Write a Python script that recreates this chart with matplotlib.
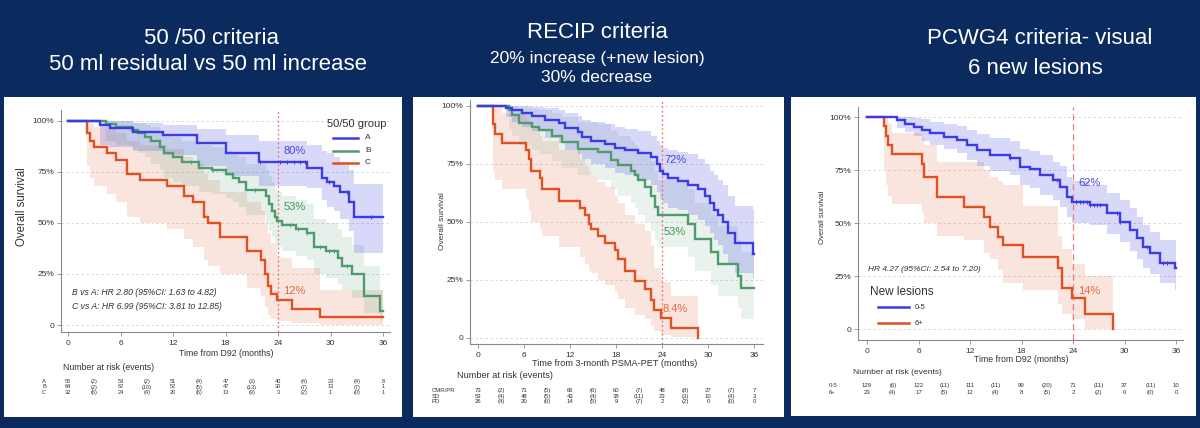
import matplotlib
matplotlib.use('Agg')
import matplotlib.pyplot as plt
import numpy as np
from matplotlib.lines import Line2D
from matplotlib.patches import Rectangle
from matplotlib.transforms import blended_transform_factory

plt.rcParams['font.family'] = ['Liberation Sans', 'DejaVu Sans']

# ---------------- DATA ----------------
risk_times = list(range(0, 37, 3))
x_ticks = [0, 6, 12, 18, 24, 30, 36]
y_ticks = [0, 0.25, 0.5, 0.75, 1.0]
y_tick_labels = ['0', '25%', '50%', '75%', '100%']

# Panel 1: 50/50 criteria
p1_A_t = [0, 3.6, 4.8, 7.4, 10.9, 14.7, 18.1, 21.8, 27.3, 29.0, 29.6, 30.4, 31.1, 32.1, 32.7, 36]
p1_A_s = [1.0, 0.98, 0.964, 0.946, 0.93, 0.89, 0.84, 0.80, 0.77, 0.72, 0.70, 0.68, 0.65, 0.60, 0.53, 0.53]
p1_A_hi = [1.0, 1.0, 1.0, 0.99, 0.98, 0.96, 0.93, 0.90, 0.88, 0.85, 0.84, 0.82, 0.80, 0.76, 0.69, 0.69]
p1_A_lo = [1.0, 0.88, 0.87, 0.85, 0.83, 0.78, 0.73, 0.68, 0.67, 0.61, 0.58, 0.56, 0.52, 0.46, 0.35, 0.35]
p1_A_cens = [21.95, 24.2, 25.0, 25.8, 26.5, 27.1, 29.8, 31.9, 34.6]

p1_B_t = [0, 4.3, 5.5, 7.3, 8.0, 8.8, 9.5, 10.5, 11.0, 12.0, 13.0, 15.0, 16.5, 18.0, 18.8, 19.5, 20.3,
          22.6, 23.0, 23.3, 23.6, 23.9, 24.5, 26.0, 27.3, 28.1, 29.5, 30.8, 31.3, 32.5, 33.8, 35.7, 36]
p1_B_s = [1.0, 0.985, 0.97, 0.955, 0.94, 0.92, 0.90, 0.87, 0.84, 0.82, 0.80, 0.77, 0.76, 0.74, 0.72, 0.70, 0.66,
          0.63, 0.59, 0.56, 0.53, 0.51, 0.49, 0.47, 0.45, 0.38, 0.36, 0.33, 0.29, 0.25, 0.14, 0.07, 0.07]
p1_B_hi = [1.0, 1.0, 1.0, 0.995, 0.99, 0.98, 0.97, 0.95, 0.93, 0.92, 0.90, 0.88, 0.87, 0.85, 0.84, 0.82, 0.79,
           0.76, 0.73, 0.70, 0.67, 0.65, 0.63, 0.61, 0.59, 0.52, 0.50, 0.47, 0.43, 0.39, 0.29, 0.17, 0.17]
p1_B_lo = [1.0, 0.90, 0.88, 0.86, 0.84, 0.82, 0.79, 0.76, 0.72, 0.70, 0.68, 0.65, 0.64, 0.62, 0.60, 0.58, 0.54,
           0.50, 0.46, 0.43, 0.40, 0.38, 0.36, 0.34, 0.32, 0.25, 0.23, 0.20, 0.17, 0.13, 0.06, 0.02, 0.02]
p1_B_cens = [14.1, 16.6, 21.4, 25.4, 26.3, 27.3, 28.8, 29.8, 30.4, 31.9]

p1_C_t = [0, 2.2, 2.5, 3.0, 4.4, 5.5, 6.7, 8.2, 11.3, 13.2, 14.3, 15.5, 16.0, 17.4, 20.4, 22.0, 22.5, 22.8,
          23.2, 23.9, 25.6, 28.8, 36]
p1_C_s = [1.0, 0.94, 0.90, 0.87, 0.84, 0.81, 0.74, 0.71, 0.68, 0.63, 0.60, 0.53, 0.50, 0.43, 0.36, 0.32, 0.25, 0.19,
          0.15, 0.12, 0.08, 0.04, 0.04]
p1_C_hi = [1.0, 1.0, 0.99, 0.97, 0.96, 0.94, 0.90, 0.88, 0.86, 0.82, 0.79, 0.74, 0.71, 0.65, 0.60, 0.56, 0.50, 0.45,
           0.40, 0.33, 0.28, 0.17, 0.17]
p1_C_lo = [1.0, 0.78, 0.72, 0.68, 0.64, 0.60, 0.53, 0.50, 0.47, 0.42, 0.38, 0.32, 0.29, 0.25, 0.18, 0.14, 0.09, 0.05,
           0.03, 0.02, 0.01, 0.0, 0.0]

p1_rows = ['A', 'B', 'C']
p1_risk = [
    ['56', '(2)', '53', '(2)', '51', '(4)', '47', '(3)', '40', '(4)', '23', '(4)', '8'],
    ['64', '(2)', '62', '(10)', '52', '(5)', '47', '(13)', '30', '(7)', '13', '(7)', '1'],
    ['32', '(6)', '24', '(4)', '20', '(6)', '13', '(9)', '3', '(2)', '1', '(0)', '1'],
]

# Panel 2: RECIP criteria
p2_A_t = [0, 3.6, 4.4, 5.7, 7.0, 8.8, 10.5, 11.4, 13.1, 13.5, 14.8, 16.6, 17.9, 19.2, 20.9, 22.6, 23.3, 23.7,
          24.1, 24.8, 26.1, 27.4, 28.7, 29.6, 30.2, 30.8, 31.3, 32.0, 32.6, 33.5, 35.9, 36]
p2_A_s = [1.0, 0.99, 0.98, 0.97, 0.955, 0.94, 0.925, 0.905, 0.885, 0.865, 0.85, 0.835, 0.82, 0.81, 0.795, 0.78, 0.75,
          0.72, 0.705, 0.69, 0.675, 0.66, 0.64, 0.61, 0.58, 0.55, 0.53, 0.50, 0.45, 0.41, 0.36, 0.36]
p2_A_hi = [1.0, 1.0, 1.0, 1.0, 0.995, 0.99, 0.98, 0.97, 0.955, 0.94, 0.93, 0.92, 0.91, 0.90, 0.89, 0.87, 0.85,
           0.83, 0.82, 0.81, 0.80, 0.79, 0.77, 0.75, 0.72, 0.70, 0.68, 0.66, 0.61, 0.57, 0.55, 0.55]
p2_A_lo = [1.0, 0.95, 0.93, 0.91, 0.89, 0.86, 0.84, 0.81, 0.79, 0.77, 0.75, 0.73, 0.71, 0.70, 0.68, 0.66, 0.63,
           0.60, 0.58, 0.56, 0.55, 0.53, 0.51, 0.48, 0.45, 0.42, 0.40, 0.36, 0.32, 0.28, 0.26, 0.26]

p2_B_t = [0, 4.0, 4.4, 5.3, 7.0, 7.9, 9.6, 10.9, 13.1, 15.7, 17.4, 18.3, 20.0, 20.5, 20.9, 21.8, 22.6, 23.1,
          23.5, 27.4, 28.3, 30.4, 31.3, 33.9, 34.3, 36]
p2_B_s = [1.0, 0.98, 0.96, 0.925, 0.91, 0.895, 0.87, 0.845, 0.815, 0.80, 0.765, 0.745, 0.72, 0.70, 0.68, 0.65, 0.61,
          0.565, 0.53, 0.49, 0.425, 0.37, 0.32, 0.265, 0.215, 0.215]
p2_B_hi = [1.0, 1.0, 1.0, 0.99, 0.985, 0.98, 0.97, 0.95, 0.93, 0.92, 0.89, 0.87, 0.85, 0.83, 0.81, 0.79, 0.76,
           0.72, 0.68, 0.64, 0.58, 0.53, 0.48, 0.42, 0.37, 0.37]
p2_B_lo = [1.0, 0.90, 0.87, 0.83, 0.81, 0.79, 0.76, 0.73, 0.70, 0.68, 0.64, 0.61, 0.58, 0.56, 0.53, 0.50, 0.46,
           0.42, 0.39, 0.35, 0.29, 0.23, 0.18, 0.13, 0.08, 0.08]

p2_C_t = [0, 2.0, 2.25, 3.1, 6.2, 6.6, 6.9, 8.1, 8.3, 10.5, 13.3, 14.0, 14.5, 14.8, 15.7, 16.6, 17.9, 18.3, 19.2,
          20.5, 21.8, 22.6, 22.9, 23.9, 25.2, 28.7]
p2_C_s = [1.0, 0.92, 0.88, 0.84, 0.81, 0.77, 0.72, 0.69, 0.64, 0.59, 0.56, 0.53, 0.49, 0.47, 0.44, 0.41, 0.38, 0.34,
          0.29, 0.245, 0.21, 0.165, 0.12, 0.084, 0.045, 0.0]
p2_C_hi = [1.0, 1.0, 1.0, 0.97, 0.95, 0.92, 0.90, 0.87, 0.85, 0.81, 0.77, 0.74, 0.72, 0.70, 0.67, 0.65, 0.61, 0.58,
           0.53, 0.49, 0.46, 0.40, 0.30, 0.24, 0.18, 0.18]
p2_C_lo = [1.0, 0.72, 0.68, 0.64, 0.60, 0.55, 0.50, 0.47, 0.44, 0.39, 0.35, 0.32, 0.29, 0.28, 0.25, 0.23, 0.20, 0.17,
           0.13, 0.10, 0.08, 0.05, 0.03, 0.015, 0.005, 0.0]

p2_rows = ['CMR/PR', 'SD', 'PD']
p2_risk = [
    ['73', '(2)', '71', '(5)', '66', '(6)', '60', '(7)', '48', '(8)', '27', '(7)', '7'],
    ['53', '(4)', '48', '(5)', '43', '(4)', '38', '(11)', '23', '(3)', '10', '(4)', '3'],
    ['26', '(4)', '20', '(6)', '14', '(5)', '9', '(7)', '2', '(2)', '0', '(0)', '0'],
]

# Panel 3: PCWG4 criteria
p3_A_t = [0, 3.5, 4.46, 5.43, 6.4, 7.37, 8.92, 10.47, 11.64, 12.8, 14.35, 16.68, 17.84, 19.0, 20.17, 21.72, 22.5,
          23.27, 23.86, 25.99, 27.93, 29.48, 30.64, 31.42, 32.2, 32.97, 34.13, 35.88, 36]
p3_A_s = [1.0, 0.987, 0.97, 0.956, 0.94, 0.925, 0.909, 0.893, 0.87, 0.846, 0.822, 0.81, 0.767, 0.755, 0.728, 0.704,
          0.673, 0.626, 0.60, 0.586, 0.547, 0.508, 0.468, 0.43, 0.39, 0.358, 0.314, 0.29, 0.29]
p3_A_hi = [1.0, 1.0, 1.0, 0.995, 0.99, 0.98, 0.97, 0.96, 0.94, 0.92, 0.90, 0.89, 0.85, 0.84, 0.82, 0.79, 0.77,
           0.72, 0.70, 0.68, 0.645, 0.61, 0.57, 0.53, 0.49, 0.46, 0.42, 0.42, 0.42]
p3_A_lo = [1.0, 0.95, 0.93, 0.91, 0.89, 0.87, 0.85, 0.83, 0.80, 0.77, 0.745, 0.73, 0.68, 0.665, 0.635, 0.61, 0.575,
           0.53, 0.50, 0.49, 0.45, 0.41, 0.37, 0.33, 0.29, 0.26, 0.22, 0.185, 0.185]
p3_A_cens = [16.7, 21.7, 22.1, 24.4, 24.8, 25.2, 25.6, 26.0, 26.4, 26.8, 27.1, 29.1, 29.5, 32.6, 34.5, 34.9]

p3_B_t = [0, 2.0, 2.25, 2.5, 2.9, 6.4, 6.6, 8.15, 11.25, 13.6, 14.35, 15.3, 15.9, 18.2, 22.3, 22.7, 23.9, 25.4, 28.7]
p3_B_s = [1.0, 0.957, 0.913, 0.87, 0.826, 0.78, 0.72, 0.626, 0.578, 0.53, 0.484, 0.437, 0.40, 0.343, 0.288, 0.193,
          0.146, 0.072, 0.0]
p3_B_hi = [1.0, 1.0, 1.0, 0.97, 0.925, 0.90, 0.87, 0.79, 0.79, 0.75, 0.72, 0.70, 0.68, 0.58, 0.44, 0.38, 0.31,
           0.25, 0.25]
p3_B_lo = [1.0, 0.75, 0.68, 0.63, 0.59, 0.55, 0.50, 0.44, 0.42, 0.36, 0.33, 0.28, 0.22, 0.185, 0.12, 0.07, 0.05,
           0.0, 0.0]

p3_rows = ['0-5', '6+']
p3_risk = [
    ['129', '(6)', '122', '(11)', '111', '(11)', '99', '(20)', '71', '(11)', '37', '(11)', '10'],
    ['23', '(4)', '17', '(5)', '12', '(4)', '8', '(5)', '2', '(2)', '0', '(0)', '0'],
]

# ---------------- STYLE ----------------
BG = '#0b2a5e'
BLUE = '#3c3ce4'
GREEN = '#4f9b6e'
RED = '#e05023'
W, H = 1200, 428

fig = plt.figure(figsize=(12, 4.28), dpi=100)
fig.patch.set_facecolor(BG)


def fx(x):
    return x / W


def fy(y):
    return 1 - y / H


# white panels
for (x0, y0, x1, y1) in [(4, 97, 402, 417), (413, 97, 784, 417), (791, 97, 1196, 416)]:
    fig.add_artist(Rectangle((fx(x0), fy(y1)), (x1 - x0) / W, (y1 - y0) / H,
                             transform=fig.transFigure, facecolor='white', edgecolor='none', zorder=0))

# titles
fig.text(fx(211), fy(38), '50 /50 criteria', ha='center', va='center', color='white', fontsize=16)
fig.text(fx(208), fy(64), '50 ml residual vs 50 ml increase', ha='center', va='center', color='white', fontsize=16)
fig.text(fx(597), fy(33), 'RECIP criteria', ha='center', va='center', color='white', fontsize=16)
fig.text(fx(597), fy(58), '20% increase (+new lesion)', ha='center', va='center', color='white', fontsize=12.5)
fig.text(fx(597), fy(78), '30% decrease', ha='center', va='center', color='white', fontsize=12.5)
fig.text(fx(1040), fy(39), 'PCWG4 criteria- visual', ha='center', va='center', color='white', fontsize=16)
fig.text(fx(1035), fy(68), '6 new lesions', ha='center', va='center', color='white', fontsize=16)


def make_ax(px_left, px_right, px_top, px_bottom, t0px, t36px, s0px, s1px):
    ax = fig.add_axes([fx(px_left), fy(px_bottom), (px_right - px_left) / W, (px_bottom - px_top) / H])
    ax.set_facecolor('none')
    sx = (t36px - t0px) / 36.0
    sy = (s0px - s1px)
    ax.set_xlim((px_left - t0px) / sx, (px_right - t0px) / sx)
    ax.set_ylim(-(px_bottom - s0px) / sy, (s0px - px_top) / sy)
    for sp in ['top', 'right']:
        ax.spines[sp].set_visible(False)
    for sp in ['left', 'bottom']:
        ax.spines[sp].set_color('#8a8a8a')
        ax.spines[sp].set_linewidth(0.8)
    ax.set_yticks(y_ticks)
    ax.set_yticklabels(y_tick_labels)
    ax.set_xticks(x_ticks)
    ax.tick_params(axis='both', labelsize=6, colors='#8a8a8a', labelcolor='#333333', length=3, width=0.6, pad=2)
    ax.tick_params(axis='x', pad=3)
    ax.yaxis.grid(True, ls=(0, (3, 3)), color='#d4d4d4', lw=0.6)
    ax.set_axisbelow(True)
    return ax


def km(ax, t, s, lo, hi, color, alpha, cens=None):
    ax.fill_between(t, lo, hi, step='post', color=color, alpha=alpha, lw=0, zorder=1)
    ax.step(t, s, where='post', color=color, lw=1.7, zorder=3, solid_joinstyle='miter')
    if cens:
        tt = np.array(t)
        ss = np.array(s)
        idx = np.searchsorted(tt, cens, side='right') - 1
        ax.plot(cens, ss[idx], ls='none', marker='|', ms=3.5, mew=0.7, color=color, zorder=4)


def risk_table(ax, rows, values, label_x, label_ha, row_ys, head_x, head_y, fs, headfs):
    tr = blended_transform_factory(ax.transData, fig.transFigure)
    ax.text(head_x, fy(head_y), 'Number at risk (events)', transform=tr, ha='left', va='center',
            fontsize=headfs, color='#333333')
    for name, vals, ry in zip(rows, values, row_ys):
        ax.text(label_x, fy(ry), name, transform=tr, ha=label_ha, va='center_baseline', fontsize=fs,
                color='#333333')
        for tval, v in zip(risk_times, vals):
            ax.text(tval, fy(ry), v, transform=tr, ha='center', va='center_baseline', fontsize=fs,
                    color='#333333')


# ---------------- PANEL 1 ----------------
ax1 = make_ax(61, 390, 110, 332, 68, 383, 325, 120.7)
km(ax1, p1_C_t, p1_C_s, p1_C_lo, p1_C_hi, RED, 0.15)
km(ax1, p1_B_t, p1_B_s, p1_B_lo, p1_B_hi, GREEN, 0.15, p1_B_cens)
km(ax1, p1_A_t, p1_A_s, p1_A_lo, p1_A_hi, BLUE, 0.2, p1_A_cens)
ax1.axvline(24, color='#f06a6a', lw=0.9, ls=(0, (1.5, 2)), zorder=2)
ax1.text(24.6, 0.853, '80%', color='#4646d6', fontsize=8, va='center', ha='left')
ax1.text(24.6, 0.576, '53%', color='#3d9a55', fontsize=8, va='center', ha='left')
ax1.text(24.6, 0.166, '12%', color='#e5663f', fontsize=8, va='center', ha='left')
ax1.text(0.46, 0.16, 'B vs A: HR 2.80 (95%CI: 1.63 to 4.82)', style='italic', fontsize=6.2, color='#333333',
         va='center', ha='left')
ax1.text(0.46, 0.09, 'C vs A: HR 6.99 (95%CI: 3.81 to 12.85)', style='italic', fontsize=6.2, color='#333333',
         va='center', ha='left')
fig.text(fx(22), fy(207), 'Overall survival', rotation=90, ha='center', va='center', fontsize=8.3, color='#333333')
fig.text(fx(226), fy(354), 'Time from D92 (months)', ha='center', va='center', fontsize=6.3, color='#333333')
# legend
fig.text(fx(357), fy(124), '50/50 group', ha='center', va='center', fontsize=8, color='#333333')
for lab, col, yy in zip(p1_rows, [BLUE, GREEN, RED], [137.7, 150.7, 162.7]):
    fig.add_artist(Line2D([fx(333), fx(358)], [fy(yy), fy(yy)], transform=fig.transFigure, color=col, lw=1.8))
    fig.text(fx(365), fy(yy), lab, ha='left', va='center', fontsize=6, color='#333333')
risk_table(ax1, p1_rows, p1_risk, -2.74, 'center', [381, 386.5, 392], -0.57, 367, 4.1, 6.3)

# ---------------- PANEL 2 ----------------
ax2 = make_ax(470, 763, 100, 344, 478, 754, 338, 105.7)
km(ax2, p2_C_t, p2_C_s, p2_C_lo, p2_C_hi, RED, 0.15)
km(ax2, p2_B_t, p2_B_s, p2_B_lo, p2_B_hi, GREEN, 0.12)
km(ax2, p2_A_t, p2_A_s, p2_A_lo, p2_A_hi, BLUE, 0.2)
ax2.axvline(24, color='#f06a6a', lw=0.9, ls=(0, (1.5, 2)), zorder=2)
ax2.text(24.26, 0.766, '72%', color='#4646d6', fontsize=8, va='center', ha='left')
ax2.text(24.26, 0.458, '53%', color='#3d9a55', fontsize=8, va='center', ha='left')
ax2.text(24.1, 0.125, '8.4%', color='#e5663f', fontsize=8, va='center', ha='left')
fig.text(fx(442), fy(221), 'Overall survival', rotation=90, ha='center', va='center', fontsize=6, color='#333333')
fig.text(fx(615), fy(363), 'Time from 3-month PSMA-PET (months)', ha='center', va='center', fontsize=6.6,
         color='#333333')
risk_table(ax2, p2_rows, p2_risk, -6.0, 'left', [390, 395.7, 401.3], -2.74, 376, 4.3, 6.6)

# ---------------- PANEL 3 ----------------
ax3 = make_ax(858, 1183, 107, 340, 867, 1176, 329.3, 117.3)
km(ax3, p3_B_t, p3_B_s, p3_B_lo, p3_B_hi, RED, 0.15)
km(ax3, p3_A_t, p3_A_s, p3_A_lo, p3_A_hi, BLUE, 0.2, p3_A_cens)
ax3.axvline(24, color='#f07a7a', lw=0.9, ls=(0, (5, 3)), zorder=2)
ax3.text(24.6, 0.692, '62%', color='#4646d6', fontsize=8, va='center', ha='left')
ax3.text(24.6, 0.18, '14%', color='#e5663f', fontsize=8, va='center', ha='left')
ax3.text(0.1, 0.284, 'HR 4.27 (95%CI: 2.54 to 7.20)', style='italic', fontsize=6, color='#333333',
         va='center', ha='left')
fig.text(fx(822), fy(217), 'Overall survival', rotation=90, ha='center', va='center', fontsize=5.6, color='#333333')
fig.text(fx(1021), fy(360), 'Time from D92 (months)', ha='center', va='center', fontsize=6.3, color='#333333')
fig.text(fx(870), fy(291.7), 'New lesions', ha='left', va='center', fontsize=8.5, color='#333333')
for lab, col, yy in zip(p3_rows, [BLUE, RED], [307.3, 323.3]):
    fig.add_artist(Line2D([fx(878), fx(909)], [fy(yy), fy(yy)], transform=fig.transFigure, color=col, lw=1.8))
    fig.text(fx(915), fy(yy), lab, ha='left', va='center', fontsize=5.5, color='#333333')
risk_table(ax3, p3_rows, p3_risk, -4.43, 'left', [385, 392], -1.63, 373, 4.3, 6.1)

fig.savefig('out.png', dpi=100, facecolor=BG)
